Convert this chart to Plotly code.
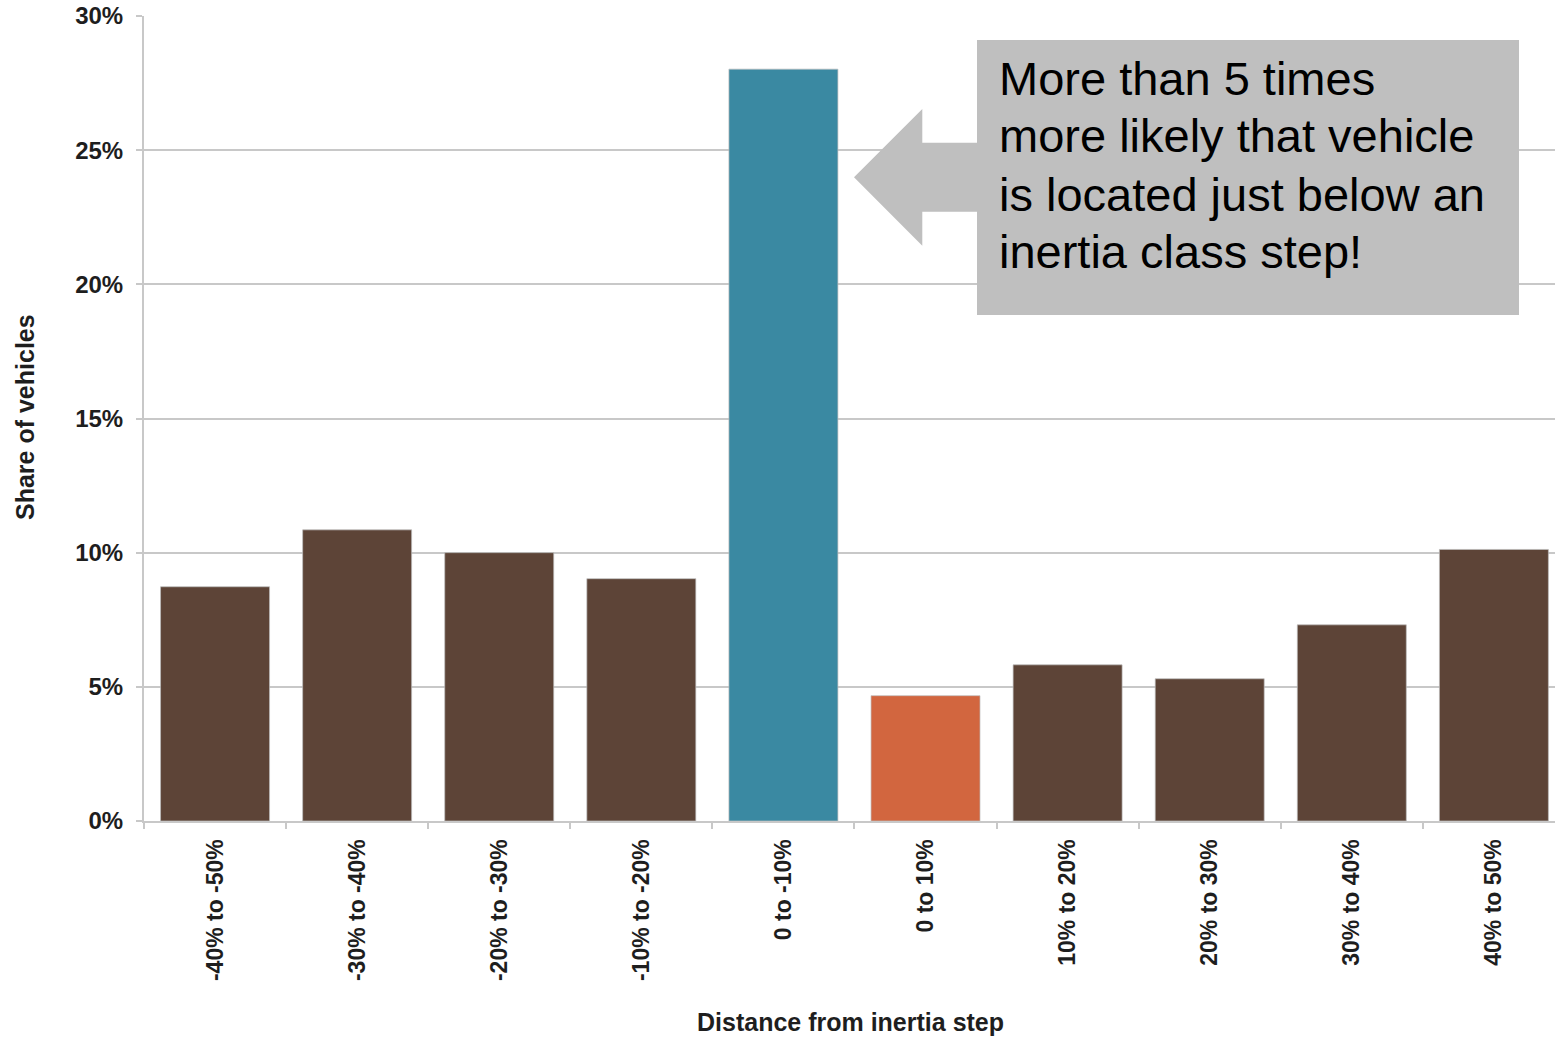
import plotly.graph_objects as go

# Share of vehicles by distance from the nearest inertia class step
categories = [
    "-40% to -50%", "-30% to -40%", "-20% to -30%", "-10% to -20%",
    "0 to -10%", "0 to 10%", "10% to 20%", "20% to 30%", "30% to 40%", "40% to 50%",
]
share_pct = [8.73, 10.85, 10.0, 9.03, 28.02, 4.67, 5.82, 5.30, 7.31, 10.12]

BROWN = "#5D4437"
TEAL = "#3A89A2"
ORANGE = "#D2663F"
bar_colors = [BROWN, BROWN, BROWN, BROWN, TEAL, ORANGE, BROWN, BROWN, BROWN, BROWN]

callout_lines = [
    "More than 5 times",
    "more likely that vehicle",
    "is located just below an",
    "inertia class step!",
]

W, H = 1555, 1037
M_L, M_R, M_T, M_B = 144, 0, 16, 216
PLOT_W = W - M_L - M_R
PLOT_H = H - M_T - M_B

FONT = "Liberation Sans, Arial, Helvetica, sans-serif"
GRID = "#C8C8C8"
CALLOUT = "#BFBFBF"
TEXT = "#1e1e1e"


def px_x(px):
    return (px - M_L) / PLOT_W


def px_y(py):
    return (H - M_B - py) / PLOT_H


fig = go.Figure(
    go.Bar(
        x=categories,
        y=share_pct,
        width=0.767,
        marker=dict(color=bar_colors, line=dict(color="rgba(190,190,190,0.7)", width=1)),
        hoverinfo="x+y",
    )
)

# Callout box with a left-pointing block arrow
arrow_pts = [(854, 177.3), (922.3, 109), (922.3, 142.7), (978, 142.7),
             (978, 211.7), (922.3, 211.7), (922.3, 245.7)]
path = "M " + " L ".join(f"{px_x(x):.5f},{px_y(y):.5f}" for x, y in arrow_pts) + " Z"

shapes = [
    dict(type="rect", xref="paper", yref="paper",
         x0=px_x(977), x1=px_x(1519), y0=px_y(315), y1=px_y(40),
         fillcolor=CALLOUT, line=dict(width=0), layer="above"),
    dict(type="path", xref="paper", yref="paper", path=path,
         fillcolor=CALLOUT, line=dict(width=0), layer="above"),
]

annotations = []
baselines = [94.3, 151.7, 210.7, 267.7]
for txt, base in zip(callout_lines, baselines):
    annotations.append(dict(
        text=txt, xref="paper", yref="paper",
        x=px_x(997), y=px_y(base - 16), xanchor="left", yanchor="middle",
        showarrow=False, font=dict(family=FONT, size=47, color="#000000"),
    ))

# Axis titles
annotations.append(dict(
    text="<b>Distance from inertia step</b>", xref="paper", yref="paper",
    x=px_x(850), y=px_y(1022), xanchor="center", yanchor="middle",
    showarrow=False, font=dict(family=FONT, size=25, color=TEXT),
))
annotations.append(dict(
    text="<b>Share of vehicles</b>", xref="paper", yref="paper",
    x=px_x(25), y=px_y(417), xanchor="center", yanchor="middle", textangle=-90,
    showarrow=False, font=dict(family=FONT, size=25, color=TEXT),
))

fig.update_layout(
    width=W, height=H,
    margin=dict(l=M_L, r=M_R, t=M_T, b=M_B, pad=0),
    paper_bgcolor="white", plot_bgcolor="white",
    showlegend=False,
    shapes=shapes,
    annotations=annotations,
    bargap=0.233,
    xaxis=dict(
        type="category",
        range=[-0.5, 9.43],
        tickson="boundaries",
        ticks="outside", ticklen=6, tickwidth=2, tickcolor=GRID,
        showline=True, linecolor=GRID, linewidth=2,
        showgrid=False, zeroline=False,
        tickangle=-90,
        ticklabelstandoff=7,
        tickfont=dict(family=FONT, size=23, color=TEXT, weight="bold"),
    ),
    yaxis=dict(
        range=[0, 30],
        tick0=0, dtick=5,
        ticksuffix="%",
        ticks="outside", ticklen=6, tickwidth=2, tickcolor=GRID,
        showline=True, linecolor=GRID, linewidth=2,
        showgrid=True, gridcolor=GRID, gridwidth=2,
        zeroline=False,
        ticklabelstandoff=8,
        tickfont=dict(family=FONT, size=24, color=TEXT, weight="bold"),
    ),
)

fig.write_html("out.html")
